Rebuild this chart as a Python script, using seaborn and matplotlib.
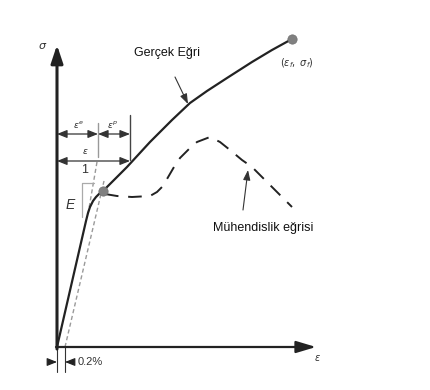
import matplotlib
matplotlib.use("Agg")
import matplotlib.pyplot as plt
import seaborn as sns
import pandas as pd

sns.set_theme(style="white")
plt.rcParams['font.family'] = ['Liberation Sans', 'DejaVu Sans']

# --- data (schematic strain / stress units) ---
true_strain = [0, 29, 31, 33, 36, 39, 42, 46, 70, 93, 115, 133, 150, 170, 195, 215, 235]
true_stress = [0, 126, 134, 140, 146, 150, 153, 156, 180, 205, 227, 244, 256, 269, 285, 297, 308]

eng_strain = [48, 60, 75, 93, 100, 105, 110, 117, 123, 133, 140, 153, 163, 173, 185, 195, 203, 215, 223, 235]
eng_stress = [153, 151, 150, 151, 155, 160, 168, 180, 189, 199, 205, 210, 205, 197, 187, 180, 172, 160, 152, 140]

elastic_ext_strain = [31, 40]
elastic_ext_stress = [133, 185]
offset_strain = [8, 47]
offset_stress = [0, 166]

yield_pt = (46, 156)
fracture_pt = (235, 308)

labels = {
    "true": "Gerçek Eğri",
    "eng": "Mühendislik eğrisi",
    "frac": r"$(\varepsilon_f,\ \sigma_f)$",
    "offset": "0.2%",
}

fig = plt.figure(figsize=(4.31, 3.9), dpi=100)
ax = fig.add_axes([0, 0, 1, 1])
ax.set_xlim(-57, 374)
ax.set_ylim(-43, 347)
ax.axis("off")

dark = "#222222"
grey = "#9a9a9a"

# axes with arrows
ax.annotate("", xy=(0, 302), xytext=(0, -2),
            arrowprops=dict(arrowstyle="-|>,head_length=0.9,head_width=0.3", lw=2.2, color=dark, shrinkA=0, shrinkB=0))
ax.annotate("", xy=(259, 0), xytext=(-1, 0),
            arrowprops=dict(arrowstyle="-|>,head_length=1.0,head_width=0.3", lw=1.6, color=dark, shrinkA=0, shrinkB=0))
ax.text(-14, 301, r"$\sigma$", fontsize=8, ha="center", va="center", color="#333")
ax.text(260, -11, r"$\varepsilon$", fontsize=7, ha="center", va="center", color="#333")

# grey dashed construction lines
sns.lineplot(x=elastic_ext_strain, y=elastic_ext_stress, ax=ax, color=grey, lw=1.0,
             linestyle=(0, (3, 2)), sort=False, estimator=None)
sns.lineplot(x=offset_strain, y=offset_stress, ax=ax, color=grey, lw=1.0,
             linestyle=(0, (3, 2)), sort=False, estimator=None)

# slope triangle
ax.plot([25, 25, 37], [130, 164, 164], color="#aaaaaa", lw=0.9)
ax.text(28, 177, "1", fontsize=9, ha="center", va="center", color="#333")
ax.text(13, 142, "E", fontsize=10, style="italic", ha="center", va="center", color="#333")

# engineering curve (dashed)
sns.lineplot(x=eng_strain, y=eng_stress, ax=ax, color=dark, lw=1.4,
             linestyle=(0, (7, 5)), sort=False, estimator=None)

# true curve
sns.lineplot(x=true_strain, y=true_stress, ax=ax, color=dark, lw=1.6,
             sort=False, estimator=None)

# dots
sns.scatterplot(x=[yield_pt[0], fracture_pt[0]], y=[yield_pt[1], fracture_pt[1]], ax=ax,
                color="#808080", s=45, edgecolor="#707070", linewidth=0.5, zorder=5)

# dimension lines
ax.plot([73, 73], [187, 232], color="#444", lw=1.0)
ax.plot([41, 41], [190, 224], color="#999", lw=1.0)
arrow_kw = dict(arrowstyle="<|-|>,head_length=0.5,head_width=0.2", lw=0.9, color="#333", shrinkA=0, shrinkB=0)
ax.annotate("", xy=(0, 213), xytext=(41, 213), arrowprops=arrow_kw)
ax.annotate("", xy=(41, 213), xytext=(73, 213), arrowprops=arrow_kw)
ax.annotate("", xy=(0, 186), xytext=(73, 186), arrowprops=arrow_kw)
ax.text(21, 223, r"$\varepsilon^{e}$", fontsize=6.5, ha="center", va="center", color="#333")
ax.text(56, 223, r"$\varepsilon^{p}$", fontsize=6.5, ha="center", va="center", color="#333")
ax.text(28, 196, r"$\varepsilon$", fontsize=6.5, ha="center", va="center", color="#333")

# 0.2% offset marker
ax.plot([0, 0], [0, -25], color="#333", lw=0.8)
ax.plot([8, 8], [0, -25], color="#333", lw=0.8)
small_arrow = dict(arrowstyle="-|>,head_length=0.5,head_width=0.2", lw=0.8, color="#222", shrinkA=0, shrinkB=0)
ax.annotate("", xy=(0, -15), xytext=(-9, -15), arrowprops=small_arrow)
ax.annotate("", xy=(8, -15), xytext=(17, -15), arrowprops=small_arrow)
ax.text(21, -15, labels["offset"], fontsize=8, ha="left", va="center", color="#333")

# labels with pointers
ax.text(110, 294, labels["true"], fontsize=9, ha="center", va="center", color="#111")
ax.annotate("", xy=(131, 243), xytext=(118, 270),
            arrowprops=dict(arrowstyle="-|>,head_length=0.5,head_width=0.18", lw=0.8, color="#333", shrinkA=0, shrinkB=0))
ax.text(206, 119, labels["eng"], fontsize=9, ha="center", va="center", color="#111")
ax.annotate("", xy=(191, 177), xytext=(186, 137),
            arrowprops=dict(arrowstyle="-|>,head_length=0.5,head_width=0.18", lw=0.8, color="#333", shrinkA=0, shrinkB=0))
ax.text(240, 284, labels["frac"], fontsize=7, ha="center", va="center", color="#333")

fig.savefig("out.png", dpi=100)
